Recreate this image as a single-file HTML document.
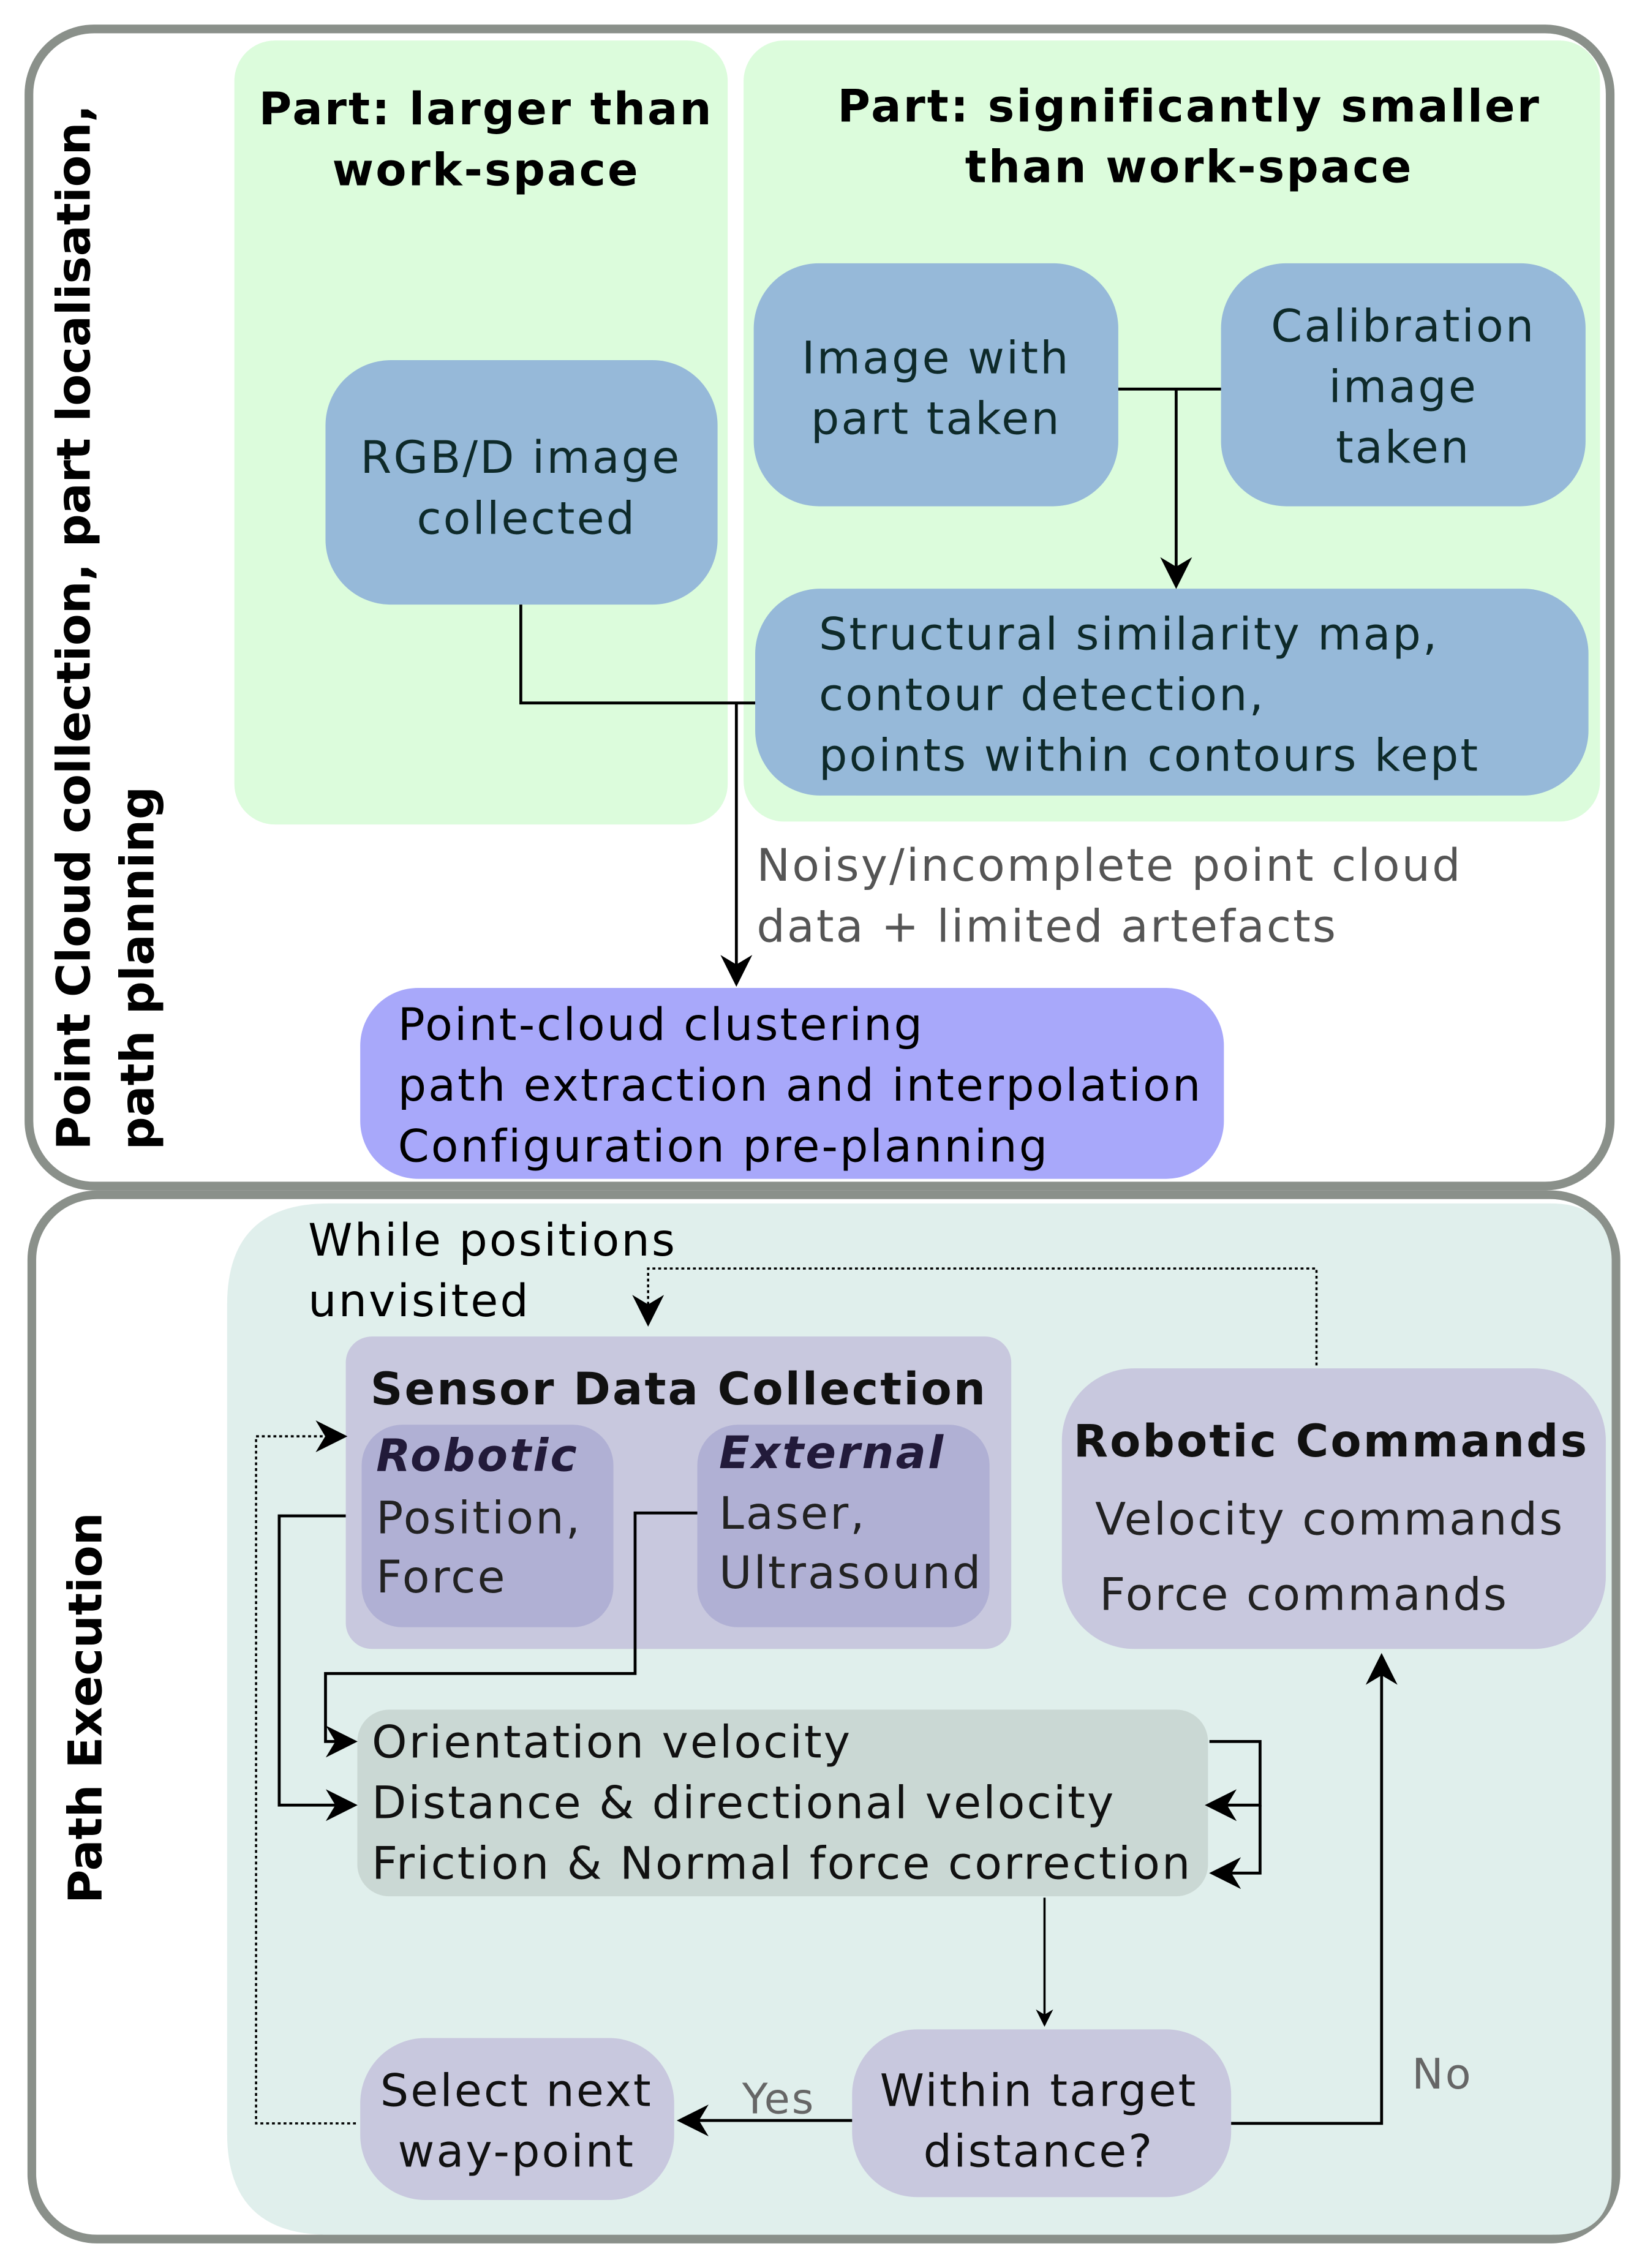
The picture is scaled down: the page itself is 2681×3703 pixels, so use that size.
<!DOCTYPE html>
<html><head><meta charset="utf-8"><style>
html,body{margin:0;padding:0;background:#fff;}
svg{display:block;}
text{font-family:"DejaVu Sans","Liberation Sans",sans-serif;letter-spacing:1.3px;}
text.rot{letter-spacing:0;}
</style></head><body>
<svg width="2681" height="3703" viewBox="0 0 1135 1568" preserveAspectRatio="none" xmlns="http://www.w3.org/2000/svg">
<defs>
<marker id="ar" viewBox="0 0 20 20" refX="18" refY="10" markerWidth="12" markerHeight="12" markerUnits="userSpaceOnUse" orient="auto">
<path d="M0,0 L20,10 L0,20 L6,10 Z" fill="#000"/></marker>
<marker id="arb" viewBox="0 0 20 20" refX="18" refY="10" markerWidth="22" markerHeight="22" markerUnits="userSpaceOnUse" orient="auto">
<path d="M0,0 L20,10 L0,20 L6,10 Z" fill="#000"/></marker>
</defs>
<rect x="20" y="20" width="1093" height="800" rx="45" fill="#fff" stroke="#8a908a" stroke-width="6"/>
<rect x="162" y="28" width="341" height="542" rx="28" fill="#dcfcdc"/>
<rect x="514" y="28" width="592" height="540" rx="28" fill="#dcfcdc"/>
<g font-weight="bold" font-size="31" fill="#000" text-anchor="middle">
<text x="336" y="86">Part: larger than</text>
<text x="336" y="128">work-space</text>
<text x="822" y="84">Part: significantly smaller</text>
<text x="822" y="126">than work-space</text>
</g>
<rect x="225" y="249" width="271" height="169" rx="45" fill="#96b9d9"/>
<rect x="521" y="182" width="252" height="168" rx="45" fill="#96b9d9"/>
<rect x="844" y="182" width="252" height="168" rx="45" fill="#96b9d9"/>
<rect x="522" y="407" width="576" height="143" rx="45" fill="#96b9d9"/>
<g font-size="31" fill="#0e2a2a" text-anchor="middle">
<text x="360" y="327">RGB/D image</text>
<text x="364" y="369">collected</text>
<text x="647" y="258">Image with</text>
<text x="647" y="300">part taken</text>
<text x="970" y="236">Calibration</text>
<text x="970" y="278">image</text>
<text x="970" y="320">taken</text>
</g>
<g font-size="31" fill="#0e2a2a">
<text x="566" y="449">Structural similarity map,</text>
<text x="566" y="491">contour detection,</text>
<text x="566" y="533">points within contours kept</text>
</g>
<g stroke="#000" stroke-width="2" fill="none">
<path d="M773,269 H844"/>
<path d="M813,269 V405" marker-end="url(#arb)"/>
<path d="M360,418 V486 H522"/>
<path d="M509,486 V680" marker-end="url(#arb)"/>
</g>
<g font-size="31" fill="#555">
<text x="523" y="609">Noisy/incomplete point cloud</text>
<text x="523" y="651">data + limited artefacts</text>
</g>
<rect x="249" y="683" width="597" height="132" rx="40" fill="#a8a8fa"/>
<g font-size="31" fill="#000">
<text x="275" y="719">Point-cloud clustering</text>
<text x="275" y="761">path extraction and interpolation</text>
<text x="275" y="803">Configuration pre-planning</text>
</g>
<g font-weight="bold" font-size="32" fill="#000">
<text class="rot" transform="translate(62,795) rotate(-90)">Point Cloud collection, part localisation,</text>
<text class="rot" transform="translate(106,795) rotate(-90)">path planning</text>
</g>
<rect x="22" y="826" width="1095" height="722" rx="45" fill="#fff" stroke="#8a908a" stroke-width="6"/>
<path d="M227,832 H1072 Q1114,832 1114,874 V1505 Q1114,1545 1074,1545 H227 Q157,1545 157,1475 V902 Q157,832 227,832 Z" fill="#e0efec"/>
<text class="rot" transform="translate(70,1316) rotate(-90)" font-weight="bold" font-size="32">Path Execution</text>
<g font-size="31" fill="#000">
<text x="213" y="868">While positions</text>
<text x="213" y="910">unvisited</text>
</g>
<rect x="239" y="924" width="460" height="216" rx="18" fill="#c8c8de"/>
<rect x="250" y="985" width="174" height="140" rx="28" fill="#b0b0d4"/>
<rect x="482" y="985" width="202" height="140" rx="28" fill="#b0b0d4"/>
<text x="256" y="971" font-weight="bold" font-size="31" fill="#111">Sensor Data Collection</text>
<g font-weight="bold" font-style="italic" font-size="31" fill="#221a3a">
<text x="260" y="1017">Robotic</text>
<text x="497" y="1015">External</text>
</g>
<g font-size="31" fill="#222">
<text x="260" y="1060">Position,</text>
<text x="260" y="1101">Force</text>
<text x="497" y="1057">Laser,</text>
<text x="497" y="1098">Ultrasound</text>
</g>
<rect x="734" y="946" width="376" height="194" rx="50" fill="#c8c8de"/>
<text x="742" y="1007" font-weight="bold" font-size="31" fill="#111">Robotic Commands</text>
<g font-size="31" fill="#222">
<text x="757" y="1061">Velocity commands</text>
<text x="760" y="1113">Force commands</text>
</g>
<rect x="247" y="1182" width="588" height="129" rx="22" fill="#cad8d4"/>
<g font-size="31" fill="#111">
<text x="257" y="1215">Orientation velocity</text>
<text x="257" y="1257">Distance &amp; directional velocity</text>
<text x="257" y="1299">Friction &amp; Normal force correction</text>
</g>
<rect x="249" y="1409" width="217" height="112" rx="45" fill="#c8c8de"/>
<rect x="589" y="1403" width="262" height="116" rx="45" fill="#c8c8de"/>
<g font-size="31" fill="#111" text-anchor="middle">
<text x="357" y="1456">Select next</text>
<text x="357" y="1498">way-point</text>
<text x="718" y="1456">Within target</text>
<text x="718" y="1498">distance?</text>
</g>
<text x="513" y="1461" font-size="29" fill="#666">Yes</text>
<text x="976" y="1444" font-size="29" fill="#666">No</text>
<g stroke="#000" fill="none">
<path d="M910,944 V877 H448 V915" stroke-width="1.5" stroke-dasharray="2,2" marker-end="url(#arb)"/>
<path d="M246,1468 H177 V993 H238" stroke-width="1.5" stroke-dasharray="2,2" marker-end="url(#arb)"/>
<path d="M239,1048 H193 V1248 H245" stroke-width="2" marker-end="url(#arb)"/>
<path d="M482,1046 H439 V1157 H225 V1204 H245" stroke-width="2" marker-end="url(#arb)"/>
<path d="M836,1204 H871 V1248 H835" stroke-width="2" marker-end="url(#arb)"/>
<path d="M871,1248 V1295 H838" stroke-width="2" marker-end="url(#arb)"/>
<path d="M722,1312 V1400" stroke-width="1.5" marker-end="url(#ar)"/>
<path d="M589,1466 H470" stroke-width="2" marker-end="url(#arb)"/>
<path d="M851,1468 H955 V1145" stroke-width="2" marker-end="url(#arb)"/>
</g>
</svg>
</body></html>
